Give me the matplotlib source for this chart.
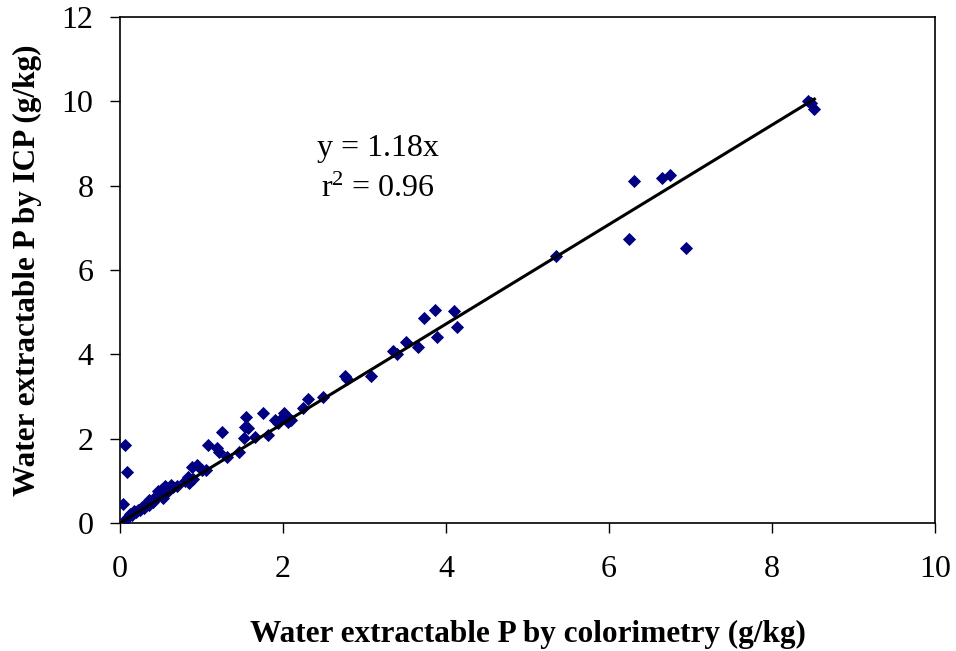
import numpy as np
import matplotlib
matplotlib.use("Agg")
import matplotlib.pyplot as plt

# water extractable P, colorimetry (x) vs ICP (y), g/kg
colorimetry = [0.06, 0.08, 0.04, 0.07, 0.10, 0.12, 0.15, 0.17, 0.20, 0.22, 0.25, 0.27,
               0.30, 0.32, 0.35, 0.36, 0.40, 0.42, 0.45, 0.47, 0.48, 0.50, 0.52, 0.53,
               0.55, 0.57, 0.58, 0.60, 0.62, 0.65, 0.70, 0.80, 0.83, 0.85, 0.88, 0.90,
               0.94, 1.00, 1.06, 1.08, 1.19, 1.22, 1.25, 1.31, 1.46, 1.52, 1.53, 1.55,
               1.57, 1.66, 1.76, 1.82, 1.90, 1.94, 1.96, 2.01, 2.05, 2.06, 2.10, 2.24,
               2.31, 2.49, 2.76, 2.78, 3.08, 3.35, 3.40, 3.51, 3.66, 3.73, 3.87, 3.89,
               4.10, 4.13, 5.35, 6.25, 6.31, 6.65, 6.75, 6.94, 8.44, 8.48, 8.52]
icp = [1.85, 1.22, 0.45, 0.10, 0.15, 0.22, 0.20, 0.28, 0.25, 0.32, 0.30, 0.38,
       0.35, 0.45, 0.42, 0.55, 0.50, 0.60, 0.62, 0.75, 0.68, 0.72, 0.80, 0.60,
       0.88, 0.70, 0.82, 0.78, 0.90, 0.85, 0.88, 1.00, 1.08, 0.95, 1.33, 1.05,
       1.37, 1.25, 1.26, 1.85, 1.77, 1.69, 2.16, 1.57, 1.69, 2.01, 2.28, 2.52,
       2.25, 2.04, 2.61, 2.09, 2.44, 2.37, 2.44, 2.61, 2.52, 2.40, 2.45, 2.73,
       2.94, 2.99, 3.49, 3.42, 3.49, 4.08, 4.01, 4.29, 4.17, 4.86, 5.05, 4.41,
       5.03, 4.65, 6.33, 6.73, 8.11, 8.18, 8.25, 6.52, 10.00, 9.95, 9.82]
slope = 1.18
r2 = 0.96

plt.rcParams['font.family'] = ['Liberation Serif', 'DejaVu Serif']
plt.rcParams['mathtext.fontset'] = 'custom'
plt.rcParams['mathtext.rm'] = 'Liberation Serif'
plt.rcParams['mathtext.it'] = 'Liberation Serif:italic'

fig = plt.figure(figsize=(9.56, 6.51), dpi=100)
ax = fig.add_axes([120/956, 1 - 523/651, 815/956, 506/651])

ax.scatter(colorimetry, icp, marker='D', s=45, color='#000080', zorder=3, linewidths=0)
xl = np.array([0, max(colorimetry)])
ax.plot(xl, slope * xl, color='black', lw=2.2, zorder=4)

ax.set_xlim(0, 10)
ax.set_ylim(0, 12)
ax.set_xticks(range(0, 11, 2))
ax.set_yticks(range(0, 13, 2))
ax.tick_params(direction='out', length=7, width=1, labelsize=23)
ax.tick_params(axis='x', pad=16)
ax.tick_params(axis='y', pad=12)
for s in ax.spines.values():
    s.set_linewidth(1.2)

ax.set_xlabel('Water extractable P by colorimetry (g/kg)', fontsize=22.5,
              fontweight='bold', labelpad=26)
ax.set_ylabel('Water extractable P by ICP (g/kg)', fontsize=22.5,
              fontweight='bold', labelpad=14)

ax.text(3.17, 8.89, 'y = %.2fx' % slope, fontsize=23, ha='center', va='center')
ax.text(3.17, 7.90, r'r$^\mathrm{2}$ = %.2f' % r2, fontsize=23, ha='center', va='center')

fig.savefig('out.png', dpi=100)
